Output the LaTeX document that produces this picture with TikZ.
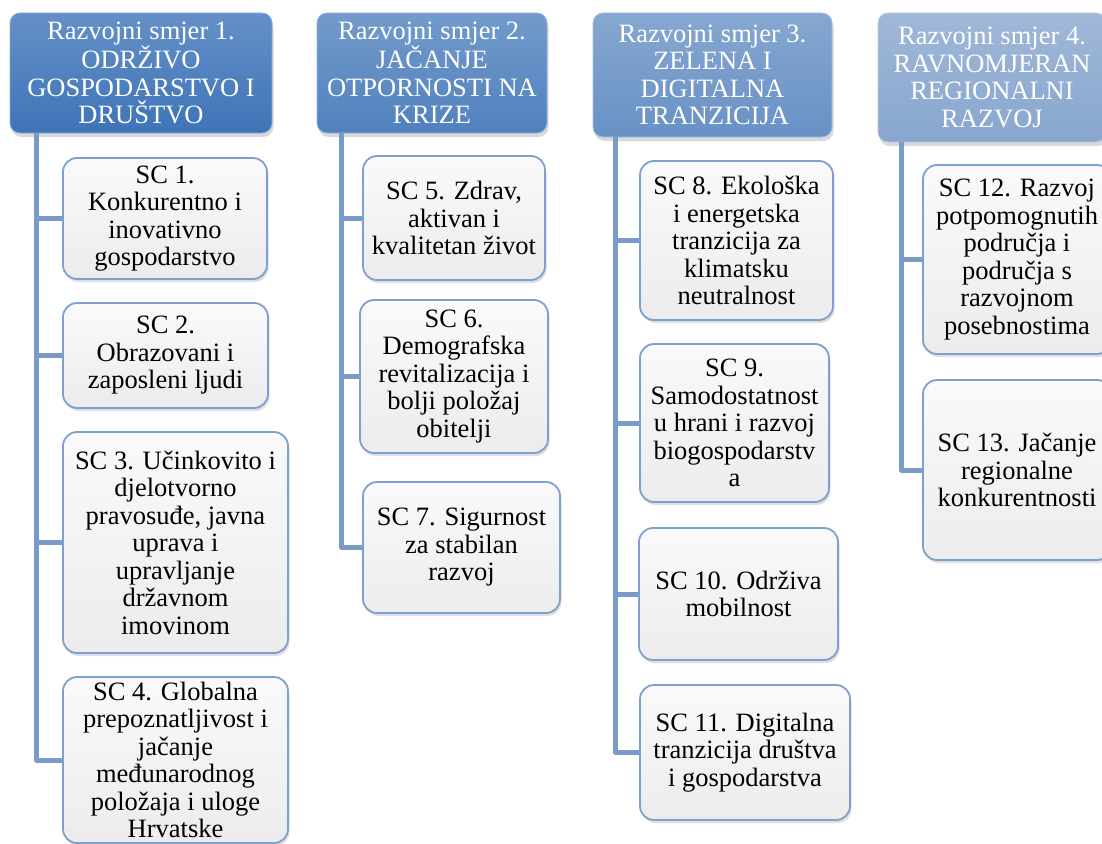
\documentclass[tikz,border=0pt]{standalone}
\usepackage{fontspec}
\setmainfont{Liberation Serif}
\usetikzlibrary{shadows}
\definecolor{hdrA}{RGB}{62,116,184}
\definecolor{hdrB}{RGB}{80,129,190}
\definecolor{hdrC}{RGB}{104,145,197}
\definecolor{hdrD}{RGB}{136,166,206}
\definecolor{boxline}{RGB}{126,160,206}
\definecolor{boxfill}{RGB}{236,236,236}
\definecolor{linkblue}{RGB}{122,154,201}
\begin{document}
\begin{tikzpicture}[x=1pt,y=-1pt, line join=round,
	font=\fontsize{26.5}{27.5}\selectfont,
	head/.style={rounded corners=10pt, draw=#1!60!white, line width=0.8pt, top color=#1!80!white, bottom color=#1, text=white, align=center, inner sep=0pt, drop shadow={shadow xshift=1.5pt, shadow yshift=-4pt, opacity=0.3}},
	goal/.style={rounded corners=14pt, draw=boxline, line width=1.8pt, top color=white!98!black, bottom color=boxfill, align=center, inner sep=0pt, drop shadow={shadow xshift=1.5pt, shadow yshift=-3pt, opacity=0.25}},
	link/.style={draw=linkblue, line width=5pt, line cap=butt}]
	\useasboundingbox (0,0) rectangle (1102,843);
	
	% razvojni smjerovi
	\node[head=hdrA, minimum width=262pt, minimum height=120pt] (rs1) at (141,73) {Razvojni smjer 1.\\ODRŽIVO\\GOSPODARSTVO I\\DRUŠTVO};
	\node[head=hdrB, minimum width=230pt, minimum height=120pt] (rs2) at (432,73) {Razvojni smjer 2.\\JAČANJE\\OTPORNOSTI NA\\KRIZE};
	\node[head=hdrC, minimum width=239pt, minimum height=124pt] (rs3) at (712.5,75) {Razvojni smjer 3.\\ZELENA I\\DIGITALNA\\TRANZICIJA};
	\node[head=hdrD, minimum width=228pt, minimum height=129pt] (rs4) at (992,77.5) {Razvojni smjer 4.\\RAVNOMJERAN\\REGIONALNI\\RAZVOJ};
	
	% strateski ciljevi
	\node[goal, minimum width=204pt, minimum height=121pt] (sc1) at (165,218.5) {SC 1.\\Konkurentno i\\inovativno\\gospodarstvo};
	\node[goal, minimum width=205pt, minimum height=105pt] (sc2) at (165.5,355.5) {SC 2.\\Obrazovani i\\zaposleni ljudi};
	\node[goal, minimum width=225pt, minimum height=221pt] (sc3) at (175.5,542.5) {SC 3. Učinkovito i\\djelotvorno\\pravosuđe, javna\\uprava i\\upravljanje\\državnom\\imovinom};
	\node[goal, minimum width=225pt, minimum height=166pt] (sc4) at (175.5,760) {SC 4. Globalna\\prepoznatljivost i\\jačanje\\međunarodnog\\položaja i uloge\\Hrvatske};
	
	\node[goal, minimum width=182pt, minimum height=124pt] (sc5) at (454,218) {SC 5. Zdrav,\\aktivan i\\kvalitetan život};
	\node[goal, minimum width=188pt, minimum height=153pt] (sc6) at (454,376.5) {SC 6.\\Demografska\\revitalizacija i\\bolji položaj\\obitelji};
	\node[goal, minimum width=197pt, minimum height=131pt] (sc7) at (461.5,547.5) {SC 7. Sigurnost\\za stabilan\\razvoj};
	
	\node[goal, minimum width=193pt, minimum height=159pt] (sc8) at (736.5,240.5) {SC 8. Ekološka\\i energetska\\tranzicija za\\klimatsku\\neutralnost};
	\node[goal, minimum width=189pt, minimum height=158pt] (sc9) at (734.5,423) {SC 9.\\Samodostatnost\\u hrani i razvoj\\biogospodarstv\\a};
	\node[goal, minimum width=199pt, minimum height=132pt] (sc10) at (738.5,594) {SC 10. Održiva\\mobilnost};
	\node[goal, minimum width=210pt, minimum height=135pt] (sc11) at (745,752.5) {SC 11. Digitalna\\tranzicija društva\\i gospodarstva};
	
	\node[goal, minimum width=188pt, minimum height=189pt] (sc12) at (1017,259.5) {SC 12. Razvoj\\potpomognutih\\područja i\\područja s\\razvojnom\\posebnostima};
	\node[goal, minimum width=188pt, minimum height=180pt] (sc13) at (1017,470) {SC 13. Jačanje\\regionalne\\konkurentnosti};
	
	% veze
	\coordinate (l1) at ([xshift=27pt]rs1.south west);
	\coordinate (l2) at ([xshift=24.5pt]rs2.south west);
	\coordinate (l3) at ([xshift=23pt]rs3.south west);
	\coordinate (l4) at ([xshift=24pt]rs4.south west);
	\draw[link] (l1) |- (sc4.west);
	\foreach \n in {sc1,sc2,sc3} \draw[link] (\n.west) -- (\n.west -| l1);
	\draw[link] (l2) |- (sc7.west);
	\foreach \n in {sc5,sc6} \draw[link] (\n.west) -- (\n.west -| l2);
	\draw[link] (l3) |- (sc11.west);
	\foreach \n in {sc8,sc9,sc10} \draw[link] (\n.west) -- (\n.west -| l3);
	\draw[link] (l4) |- (sc13.west);
	\draw[link] (sc12.west) -- (sc12.west -| l4);
\end{tikzpicture}
\end{document}
